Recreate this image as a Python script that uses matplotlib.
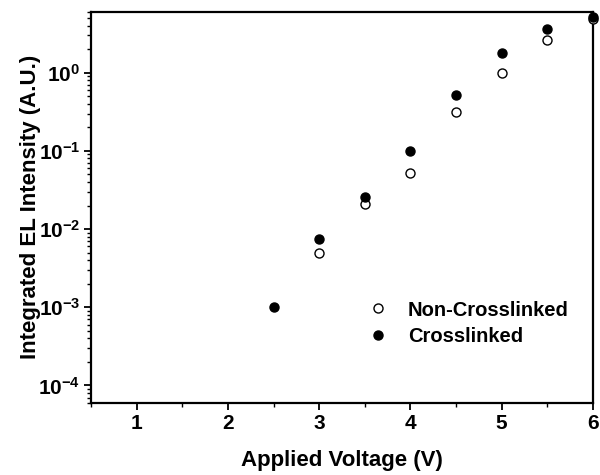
import matplotlib
matplotlib.use('Agg')
import matplotlib.pyplot as plt
import numpy as np
from matplotlib.ticker import LogLocator, NullFormatter, MultipleLocator

plt.rcParams['font.family'] = ['Liberation Sans', 'DejaVu Sans']
plt.rcParams['font.weight'] = 'bold'
plt.rcParams['mathtext.fontset'] = 'custom'
plt.rcParams['mathtext.rm'] = 'Liberation Sans:bold'
plt.rcParams['mathtext.bf'] = 'Liberation Sans:bold'
plt.rcParams['mathtext.default'] = 'bf'

# data
volt_non = [3.0, 3.5, 4.0, 4.5, 5.0, 5.5, 6.0]
inten_non = [0.005, 0.021, 0.052, 0.31, 1.0, 2.6, 4.8]
volt_cross = [2.5, 3.0, 3.5, 4.0, 4.5, 5.0, 5.5, 6.0]
inten_cross = [0.001, 0.0075, 0.026, 0.1, 0.52, 1.8, 3.6, 5.2]

x_ticks = [1, 2, 3, 4, 5, 6]
y_ticks = [1e-4, 1e-3, 1e-2, 1e-1, 1e0]
y_tick_labels = [r'$10^{-4}$', r'$10^{-3}$', r'$10^{-2}$', r'$10^{-1}$', r'$10^{0}$']

fig = plt.figure(figsize=(6, 4.75), dpi=100)
ax = fig.add_axes([0.152, 0.152, 0.836, 0.823])

ax.plot(volt_non, inten_non, 'o', mfc='white', mec='black', mew=1.0, ms=6.5,
        label='Non-Crosslinked', clip_on=False, zorder=3)
ax.plot(volt_cross, inten_cross, 'o', mfc='black', mec='black', ms=6.5,
        label='Crosslinked', clip_on=False, zorder=4)

ax.set_yscale('log')
ax.set_xlim(0.5, 6)
ax.set_ylim(6e-5, 6)

ax.set_xticks(x_ticks)
ax.set_xticklabels([str(t) for t in x_ticks])
ax.xaxis.set_minor_locator(MultipleLocator(0.5))
ax.set_yticks(y_ticks)
ax.set_yticklabels(y_tick_labels)
ax.yaxis.set_minor_locator(LogLocator(base=10, subs=np.arange(2, 10)))
ax.yaxis.set_minor_formatter(NullFormatter())

ax.tick_params(which='major', direction='out', length=5, width=1.3, labelsize=15, pad=3)
ax.tick_params(which='minor', direction='out', length=3, width=1.0)
for s in ax.spines.values():
    s.set_linewidth(1.6)

ax.set_xlabel('Applied Voltage (V)', fontsize=16, fontweight='bold', labelpad=12)
ax.set_ylabel('Integrated EL Intensity (A.U.)', fontsize=16, fontweight='bold', labelpad=-2)

ax.legend(loc='lower right', bbox_to_anchor=(0.988, 0.10), frameon=False, fontsize=14.5,
          handletextpad=0.7, labelspacing=0.35, handlelength=1.6)

fig.savefig('out.png', dpi=100)
